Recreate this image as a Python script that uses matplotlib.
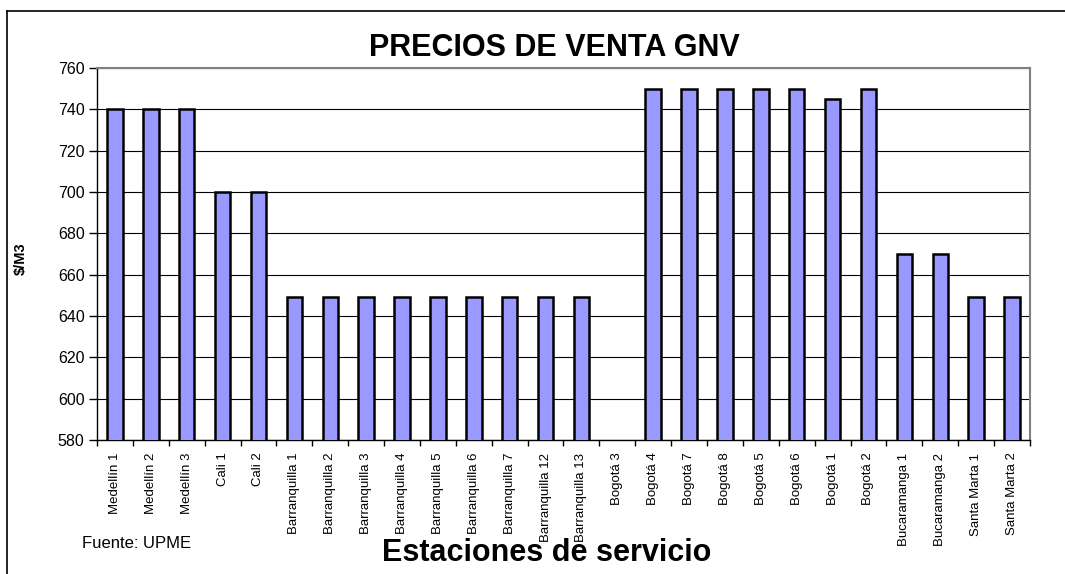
import matplotlib
matplotlib.use("Agg")
import matplotlib.pyplot as plt
from matplotlib.lines import Line2D
import numpy as np

plt.rcParams['font.family'] = ['Liberation Sans', 'DejaVu Sans']

estaciones = ["Medellín 1", "Medellín 2", "Medellín 3", "Cali 1", "Cali 2",
              "Barranquilla 1", "Barranquilla 2", "Barranquilla 3", "Barranquilla 4",
              "Barranquilla 5", "Barranquilla 6", "Barranquilla 7", "Barranquilla 12",
              "Barranquilla 13", "Bogotá 3", "Bogotá 4", "Bogotá 7", "Bogotá 8",
              "Bogotá 5", "Bogotá 6", "Bogotá 1", "Bogotá 2", "Bucaramanga 1",
              "Bucaramanga 2", "Santa Marta 1", "Santa Marta 2"]
precios = [740, 740, 740, 700, 700,
           649, 649, 649, 649, 649, 649, 649, 649, 649,
           np.nan, 750, 750, 750, 750, 750, 745, 750,
           670, 670, 649, 649]
y_ticks = [580, 600, 620, 640, 660, 680, 700, 720, 740, 760]

fig = plt.figure(figsize=(10.65, 5.74), dpi=100)
ax = fig.add_axes([0.0911, 0.2334, 0.876, 0.6481])

x = np.arange(len(estaciones))
ax.bar(x, precios, width=0.43, bottom=0, color='#9999FF', edgecolor='black',
       linewidth=1.8, zorder=3)

ax.set_xlim(-0.5, len(estaciones) - 0.5)
ax.set_ylim(y_ticks[0], y_ticks[-1])
ax.set_yticks(y_ticks)
ax.yaxis.grid(True, color='black', linewidth=0.8, zorder=0)
ax.set_axisbelow(True)

# category labels at centres, tick marks between categories
ax.set_xticks(x)
ax.set_xticklabels(estaciones, rotation=90, fontsize=9.5)
ax.set_xticks(np.arange(-0.5, len(estaciones)), minor=True)
ax.tick_params(axis='x', which='major', length=0, pad=9)
ax.tick_params(axis='x', which='minor', length=4, width=1, color='black')
ax.tick_params(axis='y', length=6, width=1, labelsize=11.5, pad=3)

for s in ['left', 'bottom']:
    ax.spines[s].set_color('black')
    ax.spines[s].set_linewidth(1)
for s in ['top', 'right']:
    ax.spines[s].set_color('#808080')
    ax.spines[s].set_linewidth(1.5)

fig.text(0.521, 0.916, "PRECIOS DE VENTA GNV", fontsize=22, fontweight='bold',
         ha='center', va='center')
fig.text(0.513, 0.037, "Estaciones de servicio", fontsize=22, fontweight='bold',
         ha='center', va='center')
fig.text(0.077, 0.054, "Fuente: UPME", fontsize=12, ha='left', va='center')
fig.text(0.0197, 0.549, "$/M3", fontsize=10.5, fontweight='bold', rotation=90,
         ha='center', va='center')

# outer frame: left and top edges only
fig.add_artist(Line2D([0.0066, 0.0066], [0.0, 0.981], color='black', linewidth=1.2))
fig.add_artist(Line2D([0.0066, 1.0], [0.981, 0.981], color='black', linewidth=1.2))

fig.savefig("out.png", dpi=100, facecolor='white')
